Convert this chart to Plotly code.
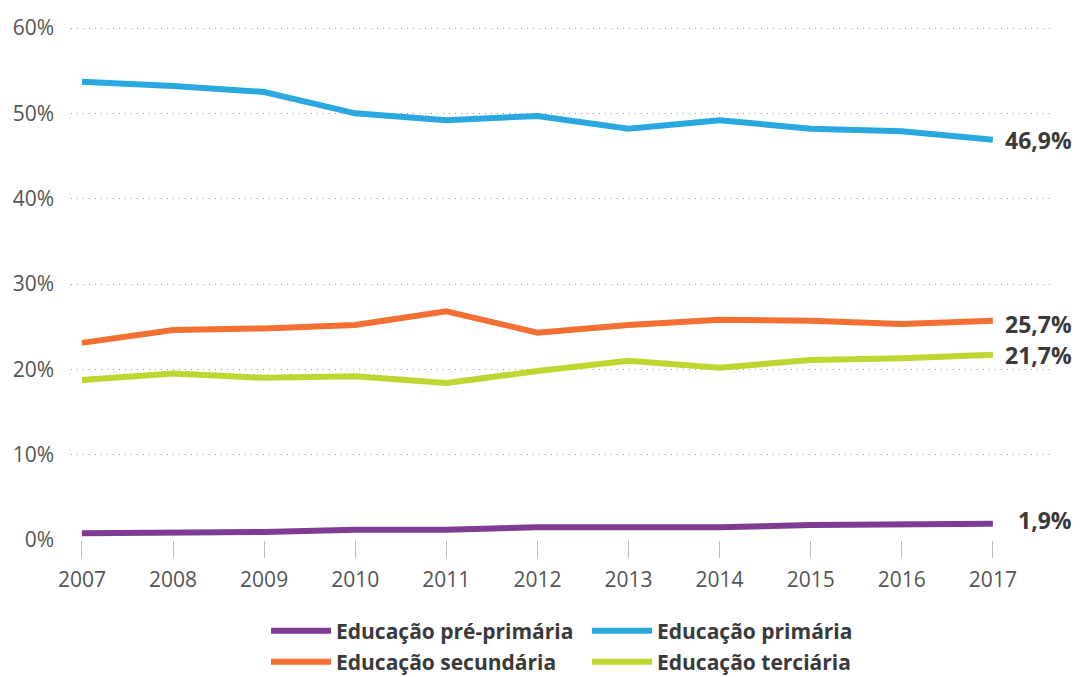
import plotly.graph_objects as go

years = [2007, 2008, 2009, 2010, 2011, 2012, 2013, 2014, 2015, 2016, 2017]
pre_primaria = [0.8, 0.8, 0.95, 1.2, 1.2, 1.5, 1.45, 1.5, 1.75, 1.9, 1.9]
primaria = [53.7, 53.2, 52.5, 50.0, 49.2, 49.7, 48.2, 49.2, 48.2, 47.9, 46.9]
secundaria = [23.1, 24.6, 24.8, 25.2, 26.8, 24.3, 25.2, 25.8, 25.7, 25.3, 25.7]
terciaria = [18.75, 19.5, 19.0, 19.2, 18.4, 19.8, 21.0, 20.2, 21.1, 21.3, 21.7]

series_names = ["Educação pré-primária", "Educação primária", "Educação secundária", "Educação terciária"]
series_values = [pre_primaria, primaria, secundaria, terciaria]
colors = ["#7F3C92", "#29A9E0", "#F36F32", "#BED62F"]
end_labels = ["1,9%", "46,9%", "25,7%", "21,7%"]
label_yshift = [4, 0, -3, 0]
legend_ids = ["legend", "legend", "legend2", "legend2"]

y_ticks = [0, 10, 20, 30, 40, 50, 60]
y_tick_labels = ["0%", "10%", "20%", "30%", "40%", "50%", "60%"]

FONT = "'Open Sans', Roboto, sans-serif"

fig = go.Figure()
for name, vals, col, lg in zip(series_names, series_values, colors, legend_ids):
    fig.add_trace(go.Scatter(
        x=years, y=vals, name=name, mode="lines",
        line=dict(color=col, width=6),
        hoverinfo="skip", legend=lg,
    ))

for vals, lab, ys in zip(series_values, end_labels, label_yshift):
    fig.add_annotation(
        x=years[-1], y=vals[-1], text="<b>%s</b>" % lab, showarrow=False,
        xanchor="right", yanchor="middle", xshift=81, yshift=ys,
        font=dict(family=FONT, size=23, color="#3A3A3A"),
    )

legend_style = dict(
    orientation="h", xref="container", yref="container",
    xanchor="left", yanchor="middle",
    entrywidth=246, entrywidthmode="pixels", itemwidth=60,
    font=dict(family=FONT, size=21, color="#3A3A3A", weight="bold"),
    bgcolor="rgba(0,0,0,0)", traceorder="normal",
)

fig.update_layout(
    width=1072, height=669,
    margin=dict(l=63, r=27, t=12, b=137, autoexpand=False),
    plot_bgcolor="white", paper_bgcolor="white",
    font=dict(family=FONT, color="#555555"),
    showlegend=True,
    legend=dict(x=258 / 1072, y=1 - 623 / 669, **legend_style),
    legend2=dict(x=258 / 1072, y=1 - 654 / 669, **legend_style),
    xaxis=dict(
        range=[2006.88, 2017.66], tickmode="array", tickvals=years,
        ticktext=[str(y) for y in years],
        showgrid=False, zeroline=False, showline=False,
        ticks="outside", ticklen=17, tickcolor="#BBBBBB", tickwidth=1,
        ticklabelstandoff=4,
        tickfont=dict(family=FONT, size=21, color="#555555"),
    ),
    yaxis=dict(
        range=[0, 60.94], tickmode="array", tickvals=y_ticks, ticktext=y_tick_labels,
        showgrid=True, gridcolor="#999999", griddash="1px,5px", gridwidth=1,
        zeroline=False, showline=False, ticks="", ticklabelstandoff=16,
        tickfont=dict(family=FONT, size=21, color="#555555"),
    ),
)

fig.write_html("out.html")
